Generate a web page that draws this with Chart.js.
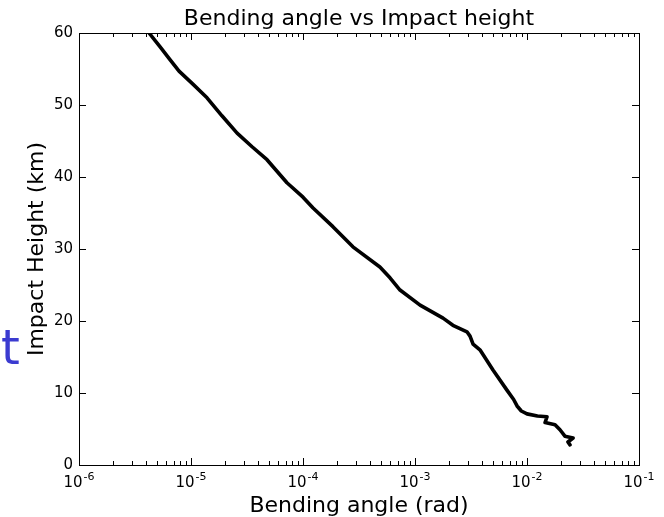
<!DOCTYPE html>
<html>
<head>
<meta charset="utf-8">
<script src="https://cdn.jsdelivr.net/npm/chart.js@4/dist/chart.umd.min.js"></script>
<style>
  body { margin: 0; background: #fff; }
  canvas { display: block; }
</style>
</head>
<body>
<canvas id="chart" width="664" height="517"></canvas>
<script>
// bending angle (rad), from the top of the profile down
const bendingAngle = [
  4.22e-6, 5.28e-6, 6.49e-6, 7.82e-6, 1.04e-5, 1.39e-5, 1.89e-5, 2.58e-5,
  3.51e-5, 4.77e-5, 7.19e-5, 1.0e-4, 1.23e-4, 1.85e-4, 2.79e-4, 4.86e-4,
  5.98e-4, 7.35e-4, 1.11e-3, 1.78e-3, 2.18e-3, 2.91e-3, 3.10e-3, 3.30e-3,
  3.80e-3, 4.97e-3, 6.62e-3, 7.60e-3, 8.15e-3, 8.90e-3, 1.0e-2, 1.24e-2,
  1.51e-2, 1.45e-2, 1.78e-2, 1.97e-2, 2.18e-2, 2.58e-2, 2.32e-2, 2.42e-2
];
// impact height (km)
const impactHeight = [
  60.0, 58.1, 56.3, 54.7, 52.9, 51.0, 48.5, 46.1,
  44.2, 42.4, 39.2, 37.2, 35.7, 33.1, 30.3, 27.5,
  26.0, 24.3, 22.2, 20.4, 19.4, 18.5, 17.9, 16.8,
  16.0, 13.2, 10.4, 9.1, 8.2, 7.5, 7.1, 6.8,
  6.7, 5.9, 5.6, 4.9, 4.0, 3.75, 3.2, 2.8
];
const xDecades = [-6, -5, -4, -3, -2, -1];
const yTicks = [0, 10, 20, 30, 40, 50, 60];

const FONT = "'DejaVu Sans', sans-serif";

// frame, inward ticks on all four sides and 10^n labels, like classic matplotlib
const frameTicks = {
  id: 'frameTicks',
  afterDraw(chart) {
    const {ctx, chartArea: a, scales} = chart;
    const xs = scales.x, ys = scales.y;
    ctx.save();
    ctx.strokeStyle = '#000';
    ctx.lineWidth = 1;
    ctx.beginPath();
    const tick = (x1, y1, x2, y2) => { ctx.moveTo(x1, y1); ctx.lineTo(x2, y2); };
    for (const d of xDecades) {
      const px = Math.round(xs.getPixelForValue(Math.pow(10, d))) + 0.5;
      tick(px, a.bottom, px, a.bottom - 7);
      tick(px, a.top, px, a.top + 7);
      if (d < -1) {
        for (let k = 2; k <= 9; k++) {
          const mx = Math.round(xs.getPixelForValue(k * Math.pow(10, d))) + 0.5;
          tick(mx, a.bottom, mx, a.bottom - 4);
          tick(mx, a.top, mx, a.top + 4);
        }
      }
    }
    for (const v of yTicks) {
      const py = Math.round(ys.getPixelForValue(v)) + 0.5;
      tick(a.left, py, a.left + 7, py);
      tick(a.right, py, a.right - 7, py);
    }
    ctx.stroke();
    ctx.strokeRect(Math.round(a.left) + 0.5, Math.round(a.top) + 0.5,
                   Math.round(a.right - a.left), Math.round(a.bottom - a.top));

    // decade labels with a raised exponent
    ctx.fillStyle = '#000';
    ctx.textBaseline = 'alphabetic';
    ctx.textAlign = 'left';
    const baseFont = "15px " + FONT, expFont = "11px " + FONT;
    for (const d of xDecades) {
      const px = xs.getPixelForValue(Math.pow(10, d));
      const exp = String(d);
      ctx.font = baseFont;
      const wb = ctx.measureText('10').width;
      ctx.font = expFont;
      const we = ctx.measureText(exp).width;
      const x0 = px - (wb + 1 + we) / 2;
      ctx.font = baseFont;
      ctx.fillText('10', x0, a.bottom + 22);
      ctx.font = expFont;
      ctx.fillText(exp, x0 + wb + 1, a.bottom + 15);
    }

    // stray blue letter at the left edge of the picture
    ctx.fillStyle = '#3b3bd0';
    ctx.font = "48px " + FONT;
    ctx.fillText('t', 1, 364);
    ctx.restore();
  }
};

const points = bendingAngle.map((b, i) => ({x: b, y: impactHeight[i]}));

new Chart(document.getElementById('chart'), {
  type: 'scatter',
  data: {
    datasets: [{
      data: points,
      showLine: true,
      borderColor: '#000',
      borderWidth: 3.6,
      pointRadius: 0,
      tension: 0,
      borderJoinStyle: 'round',
      borderCapStyle: 'round'
    }]
  },
  options: {
    responsive: false,
    animation: false,
    layout: { padding: { left: 0, right: 25, top: 0, bottom: 0 } },
    plugins: {
      legend: { display: false },
      tooltip: { enabled: false },
      title: {
        display: true,
        text: 'Bending angle vs Impact height',
        fullSize: false,
        color: '#000',
        font: { family: FONT, size: 22, weight: 'normal' },
        padding: { top: 6, bottom: 0.6 }
      }
    },
    scales: {
      x: {
        type: 'logarithmic',
        min: 1e-6,
        max: 1e-1,
        grid: { display: false, drawTicks: false },
        border: { display: false },
        afterFit(scale) { scale.height = 52; },
        ticks: {
          autoSkip: false,
          maxRotation: 0,
          padding: 6,
          font: { family: FONT, size: 15 },
          callback() { return ''; }
        },
        title: {
          display: true,
          text: 'Bending angle (rad)',
          color: '#000',
          font: { family: FONT, size: 22 },
          padding: { top: 0, bottom: -2 }
        }
      },
      y: {
        min: 0,
        max: 60,
        grid: { display: false, drawTicks: false },
        border: { display: false },
        afterFit(scale) { scale.width = 79; },
        ticks: {
          stepSize: 10,
          padding: 6,
          color: '#000',
          font: { family: FONT, size: 15 }
        },
        title: {
          display: true,
          text: 'Impact Height (km)',
          color: '#000',
          font: { family: FONT, size: 22 },
          padding: { top: 24, bottom: 0 }
        }
      }
    }
  },
  plugins: [frameTicks]
});
</script>
</body>
</html>
